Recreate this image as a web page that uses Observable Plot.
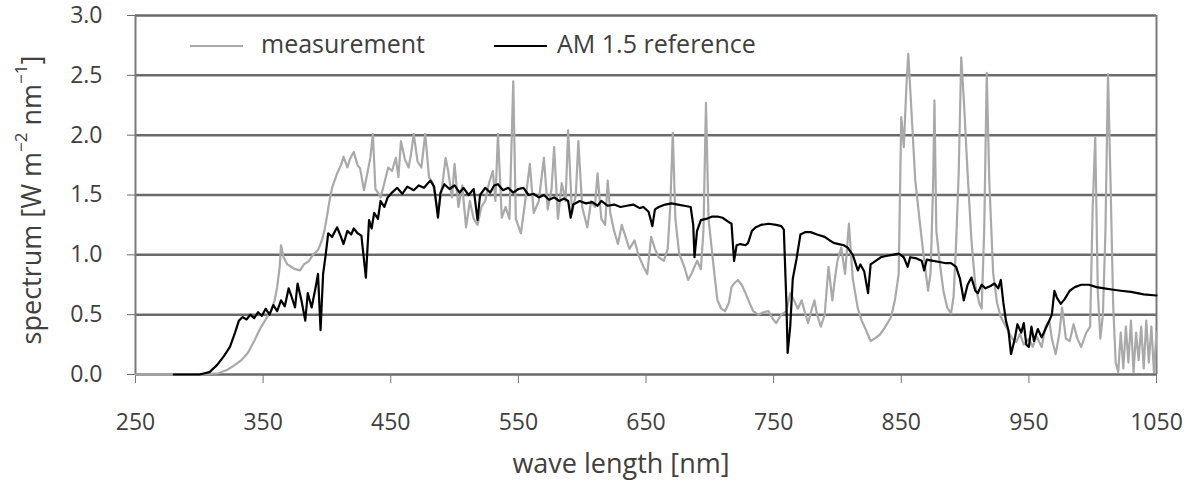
<!DOCTYPE html>
<html><head><meta charset="utf-8">
<script src="https://cdn.jsdelivr.net/npm/d3@7"></script>
<script src="https://cdn.jsdelivr.net/npm/@observablehq/plot@0.6"></script>
<style>
html,body{margin:0;padding:0;background:#fff;}
#chart svg{display:block;}
</style>
</head><body><div id="chart"></div>
<script>
// AM 1.5 reference spectrum (W m-2 nm-1)
const refWavelength = [280,300,308,314,319,324,328,331,334,337,340,343,346,349,352,355,358,361,364,367,370,372,375,377,380,383,385,388,391,393,395,397,399,401,404,408,411,413,416,419,421,424,427,430.5,433,435,437,440,442,445,447.6,451,455,459,463,468,472,476,481,484,487,489,492,496,500,504,507,511,515,518,520,524,528,531,534,538,542,546,550,554,558,562,566,570,574,578,582,586,589,591,593,598,603,608,612,615,620,625,630,635,640,645,648,652,655,657,660,665,670,675,680,685,687,688,690,693,697,702,706,710,714,717,719,721,724,728,730,733,736,740,746,752,756,758,760,761,763,765,768,771,775,779,784,790,794,797,801,805,808,812,816,818,821,824,826,830,834,838,843,848,852,855,857,862,866,868,870,875,880,885,889,893,896,899,902,905,908,910,913,916,920,923,926,928,930,932,934,936,939,941,944,946,948,950,952,954,957,960,963,966,968,970,972,975,978,982,986,991,997,1003,1009,1015,1022,1030,1040,1050];
const refSpectrum = [0,0,0.02,0.08,0.15,0.23,0.35,0.45,0.48,0.46,0.50,0.47,0.52,0.49,0.55,0.50,0.58,0.53,0.62,0.57,0.72,0.66,0.56,0.76,0.62,0.45,0.68,0.56,0.72,0.84,0.37,0.84,1.00,1.18,1.15,1.23,1.15,1.09,1.20,1.17,1.22,1.18,1.16,0.81,1.29,1.22,1.35,1.30,1.45,1.40,1.48,1.52,1.56,1.51,1.57,1.54,1.58,1.56,1.62,1.57,1.31,1.52,1.59,1.55,1.58,1.52,1.56,1.50,1.55,1.29,1.50,1.56,1.52,1.58,1.59,1.54,1.56,1.52,1.55,1.56,1.50,1.51,1.48,1.50,1.46,1.48,1.45,1.47,1.45,1.31,1.42,1.45,1.43,1.44,1.41,1.45,1.41,1.42,1.40,1.41,1.42,1.39,1.40,1.36,1.24,1.38,1.40,1.42,1.43,1.42,1.41,1.40,1.25,0.98,1.20,1.29,1.30,1.32,1.32,1.31,1.28,1.26,0.95,1.08,1.09,1.08,1.10,1.20,1.23,1.25,1.26,1.25,1.24,1.21,0.60,0.18,0.40,0.80,0.97,1.17,1.19,1.19,1.17,1.15,1.12,1.10,1.09,1.08,1.06,1.00,0.87,0.92,0.86,0.68,0.92,0.95,0.98,0.99,1.00,1.01,0.98,0.90,0.98,0.97,0.95,0.87,0.96,0.95,0.94,0.93,0.93,0.90,0.80,0.62,0.75,0.81,0.70,0.68,0.75,0.72,0.74,0.76,0.72,0.79,0.60,0.45,0.37,0.17,0.30,0.42,0.35,0.43,0.25,0.23,0.40,0.28,0.38,0.31,0.38,0.45,0.50,0.70,0.64,0.59,0.63,0.70,0.73,0.75,0.75,0.73,0.72,0.71,0.70,0.69,0.67,0.66];

const measWavelength = [250,300,315,322,328,333,338,343,348,352,356,359,361,363,364,366,369,372,375,379,382,386,389,393,396,398,400,402,404,406,408,411,413,416,418,421,424,426,429,432,434,436,438,440,442,445,448,451,454,456,458,461,464,466,468,471,474,477,480,483,487,490,493,495,498,500,503,506,509,512,515,518,521,524,527,530,532,534,537,540,543,546,548,552,556,559,562,566,570,573,576,578,581,584,587,589,592,595,597,600,604,607,610,612,615,618,620,622,625,628,631,634,637,641,644,648,651,654,657,660,664,667,669,671,673,676,680,683,686,690,693,695,697,699,702,704,706,709,712,715,717,719,722,725,728,731,734,738,742,746,749,752,756,760,763,766,769,772,775,777,780,782,784,787,790,793,796,798,800,803,806,809,812,816,819,822,826,829,833,837,842,845,848,850,852,854,855.5,858,861,865,868,871,873,875,876,877.5,880,883,886,889,891,893,895,897,899,902,905,908,911,913,915,917,919,922,925,928,931,934,937,940,943,946,950,953,956,960,963,966,968,971,974,976,979,982,985,988,991,995,998,1000,1002,1004,1006,1008,1010,1012,1014,1016,1018,1020,1022,1024,1026,1028,1030,1032,1034,1036,1038,1040,1042,1044,1046,1048,1050];
const measSpectrum = [0,0,0.01,0.04,0.08,0.12,0.18,0.28,0.39,0.46,0.53,0.62,0.73,0.90,1.08,0.98,0.92,0.90,0.88,0.87,0.92,0.95,1.00,1.04,1.12,1.20,1.32,1.45,1.56,1.62,1.68,1.75,1.82,1.73,1.80,1.86,1.75,1.72,1.54,1.70,1.81,2.01,1.55,1.52,1.48,1.60,1.73,1.70,1.81,1.65,1.95,1.80,1.73,1.85,2.01,1.78,1.73,2.01,1.65,1.60,1.35,1.55,1.81,1.70,1.48,1.76,1.40,1.58,1.23,1.45,1.30,1.25,1.40,1.45,1.60,1.70,1.45,2.01,1.31,1.40,1.30,2.45,1.30,1.18,1.50,1.76,1.35,1.45,1.81,1.38,1.55,1.90,1.30,1.60,1.45,2.04,1.35,1.50,1.95,1.40,1.23,1.45,1.40,1.68,1.30,1.25,1.62,1.35,1.20,1.09,1.25,1.15,1.05,1.12,1.00,0.90,0.84,1.15,1.05,0.98,0.95,1.05,1.40,2.02,1.30,1.01,0.90,0.79,0.85,0.95,0.88,1.20,2.27,1.30,1.00,0.80,0.62,0.55,0.53,0.60,0.73,0.76,0.79,0.75,0.68,0.60,0.53,0.50,0.52,0.53,0.47,0.43,0.50,0.53,0.68,0.62,0.55,0.62,0.50,0.43,0.55,0.62,0.50,0.40,0.50,0.90,0.62,0.80,0.95,1.06,0.84,1.26,0.80,0.55,0.45,0.38,0.28,0.30,0.33,0.39,0.48,0.62,0.84,2.15,1.90,2.40,2.68,2.20,1.62,1.23,0.95,0.70,0.85,1.60,2.29,1.20,0.95,0.70,0.56,0.51,0.65,1.10,1.68,2.65,2.30,1.68,1.12,0.75,0.60,0.55,1.20,2.52,1.61,0.85,0.60,0.48,0.42,0.36,0.30,0.27,0.34,0.25,0.30,0.23,0.32,0.23,0.40,0.45,0.30,0.17,0.35,0.56,0.30,0.28,0.42,0.30,0.23,0.35,0.40,1.40,1.98,0.70,0.30,0.50,1.20,2.51,1.60,0.60,0.10,0.02,0.35,0.05,0.40,0.10,0.45,0.02,0.35,0.12,0.40,0.05,0.45,0.10,0.40,0.02,0.35];

const xTicks = [250,350,450,550,650,750,850,950,1050];
const yTicks = [0,0.5,1.0,1.5,2.0,2.5,3.0];
const seriesNames = ["measurement","AM 1.5 reference"];
const seriesColors = ["#a9a9a9","#000000"];
const xLabel = "wave length [nm]";

const ref = refWavelength.map((w,i)=>({w, v: refSpectrum[i]}));
const meas = measWavelength.map((w,i)=>({w, v: measSpectrum[i]}));

const textColor = "#404040";
const plot = Plot.plot({
  width:1184, height:484,
  marginLeft:135, marginRight:28, marginTop:15, marginBottom:110,
  style:{fontFamily:"'Open Sans', sans-serif", fontSize:"23px", background:"#fff"},
  x:{domain:[250,1050]},
  y:{domain:[0,3]},
  marks:[
    Plot.ruleY(yTicks, {stroke:"#6a6a6a", strokeWidth:2.5}),
    Plot.ruleX([250,1050], {stroke:"#7a7a7a", strokeWidth:2}),
    Plot.axisX({ticks:xTicks, tickSize:9, tickPadding:30, label:null, stroke:"#777", fill:textColor, tickFormat:d=>String(d)}),
    Plot.axisY({ticks:yTicks, tickSize:8, tickPadding:25, label:null, stroke:"#6a6a6a", fill:textColor, tickFormat:d=>d.toFixed(1)}),
    Plot.line(meas, {x:"w", y:"v", stroke:seriesColors[0], strokeWidth:2.2}),
    Plot.line(ref, {x:"w", y:"v", stroke:seriesColors[1], strokeWidth:2.2})
  ]
});
document.getElementById("chart").appendChild(plot);

const svg = d3.select(plot);
const font = "'Open Sans', sans-serif";
// x label
svg.append("text").attr("x",621).attr("y",466).attr("text-anchor","middle").attr("dominant-baseline","middle")
  .attr("fill",textColor).style("font-size","27px").style("font-family",font).text(xLabel);
// y label with superscripts
const yl = svg.append("text").attr("transform","translate(34,200) rotate(-90)").attr("text-anchor","middle")
  .attr("dominant-baseline","middle").attr("fill",textColor).style("font-size","27px").style("font-family",font);
yl.append("tspan").text("spectrum [W m");
yl.append("tspan").attr("baseline-shift","super").style("font-size","17px").text("\u22122");
yl.append("tspan").text(" nm");
yl.append("tspan").attr("baseline-shift","super").style("font-size","17px").text("\u22121");
yl.append("tspan").text("]");
// legend
const legendPos = [{x1:190,x2:243,tx:261},{x1:494,x2:547,tx:557}];
seriesNames.forEach((name,i)=>{
  const p = legendPos[i];
  svg.append("line").attr("x1",p.x1).attr("x2",p.x2).attr("y1",46).attr("y2",46)
    .attr("stroke",seriesColors[i]).attr("stroke-width",2.2);
  svg.append("text").attr("x",p.tx).attr("y",46).attr("text-anchor","start").attr("dominant-baseline","middle")
    .attr("fill",textColor).style("font-size","25px").style("font-family",font).text(name);
});
</script>
</body></html>
